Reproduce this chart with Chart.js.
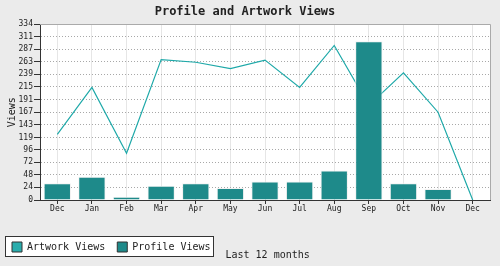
<!DOCTYPE html>
<html>
<head>
<meta charset="utf-8">
<script src="https://cdn.jsdelivr.net/npm/chart.js@4.4.1/dist/chart.umd.min.js"></script>
<style>
    html, body { margin: 0; padding: 0; background: #ebebeb; }
    #chart-views { display: block; }
</style>
</head>
<body>
<canvas id="chart-views" width="500" height="266"></canvas>
<script>
// Data
const months = ['Dec', 'Jan', 'Feb', 'Mar', 'Apr', 'May', 'Jun', 'Jul', 'Aug', 'Sep', 'Oct', 'Nov', 'Dec'];
const artworkViews = [125, 214, 89, 267, 262, 250, 266, 214, 294, 180, 242, 167, 0];
const profileViews = [32, 44, 6, 27, 32, 23, 35, 35, 56, 302, 32, 21, 0];
const yTicks = [0, 24, 48, 72, 96, 119, 143, 167, 191, 215, 239, 263, 287, 311, 334];
const xTitle = 'Last 12 months';

const MONO = "'DejaVu Sans Mono', monospace";
const INK = '#222';

// page bg, white plot, legend frame, top/right border, x title
const framePlugin = {
    id: 'frame',
    beforeDraw(chart) {
        const { ctx, chartArea: a } = chart;
        ctx.save();
        ctx.fillStyle = '#ebebeb';
        ctx.fillRect(0, 0, chart.width, chart.height);
        ctx.fillStyle = '#fff';
        ctx.fillRect(a.left, a.top, a.right - a.left, a.bottom - a.top);
        const hb = chart.legend.legendHitBoxes;
        if (hb && hb.length) {
            const first = hb[0], last = hb[hb.length - 1];
            const x0 = Math.round(first.left) - 6.5;
            const x1 = Math.round(last.left + last.width) + 2.5;
            const y0 = Math.round(first.top) - 5.5;
            const y1 = Math.round(first.top + first.height) + 4.5;
            ctx.fillStyle = '#fff';
            ctx.fillRect(x0, y0, x1 - x0, y1 - y0);
            ctx.strokeStyle = '#333';
            ctx.lineWidth = 1;
            ctx.strokeRect(x0, y0, x1 - x0, y1 - y0);
            chart._legendFrame = { x1, y1 };
        }
        ctx.restore();
    },
    beforeDatasetsDraw(chart) {
        const { ctx, chartArea: a } = chart;
        ctx.save();
        ctx.strokeStyle = '#aaa';
        ctx.lineWidth = 1;
        ctx.beginPath();
        ctx.moveTo(Math.round(a.left), Math.round(a.top) + 0.5);
        ctx.lineTo(Math.round(a.right) + 0.5, Math.round(a.top) + 0.5);
        ctx.lineTo(Math.round(a.right) + 0.5, Math.round(a.bottom));
        ctx.stroke();
        ctx.restore();
    },
    afterDraw(chart) {
        const { ctx } = chart;
        const f = chart._legendFrame || { x1: 213, y1: 256 };
        ctx.save();
        ctx.font = '10px ' + MONO;
        ctx.fillStyle = INK;
        ctx.textAlign = 'left';
        ctx.textBaseline = 'middle';
        ctx.fillText(xTitle, f.x1 + 12, 255);
        ctx.restore();
    }
};

new Chart(document.getElementById('chart-views'), {
    type: 'bar',
    data: {
        labels: months,
        datasets: [
            {
                type: 'line',
                label: 'Artwork Views',
                data: artworkViews,
                borderColor: '#1fa9a9',
                backgroundColor: '#2aadad',
                borderWidth: 1.2,
                pointRadius: 0,
                tension: 0,
                fill: false,
                order: 2
            },
            {
                type: 'bar',
                label: 'Profile Views',
                data: profileViews,
                backgroundColor: '#1e8a8a',
                borderColor: '#f2f2f2',
                borderWidth: 1,
                barPercentage: 0.79,
                categoryPercentage: 1,
                order: 1
            }
        ]
    },
    options: {
        responsive: false,
        animation: false,
        layout: { padding: { left: 0, right: 10, top: 0, bottom: 4 } },
        plugins: {
            tooltip: { enabled: false },
            title: {
                display: true,
                text: 'Profile and Artwork Views',
                color: INK,
                font: { family: MONO, size: 12, weight: 'bold' },
                padding: { top: 5, bottom: 5 }
            },
            legend: {
                position: 'bottom',
                align: 'start',
                labels: {
                    color: INK,
                    font: { family: MONO, size: 10 },
                    boxWidth: 10,
                    boxHeight: 10,
                    padding: 12,
                    sort: (a, b) => a.datasetIndex - b.datasetIndex,
                    generateLabels(chart) {
                        return Chart.defaults.plugins.legend.labels.generateLabels(chart).map(item => {
                            item.strokeStyle = '#333';
                            item.lineWidth = 1;
                            return item;
                        });
                    }
                }
            }
        },
        scales: {
            x: {
                offset: true,
                afterFit: scale => { scale.height = 30; },
                grid: { offset: false, color: '#e6e6e6', tickColor: '#333', tickLength: 4 },
                border: { color: '#333', width: 1 },
                ticks: { color: INK, font: { family: MONO, size: 8 }, padding: 0, maxRotation: 0, autoSkip: false }
            },
            y: {
                min: 0,
                max: 334,
                afterFit: scale => { scale.width = 40; },
                afterBuildTicks: scale => { scale.ticks = yTicks.map(v => ({ value: v })); },
                grid: { color: '#a8a8a8', tickColor: '#333', tickLength: 6, tickBorderDash: [] },
                border: { color: '#333', width: 1, dash: [1, 2] },
                ticks: { color: INK, font: { family: MONO, size: 8 }, padding: 1, autoSkip: false, callback: v => v },
                title: {
                    display: true,
                    text: 'Views',
                    color: INK,
                    font: { family: MONO, size: 10 },
                    padding: { top: 6, bottom: 0 }
                }
            }
        }
    },
    plugins: [framePlugin]
});
</script>
</body>
</html>
